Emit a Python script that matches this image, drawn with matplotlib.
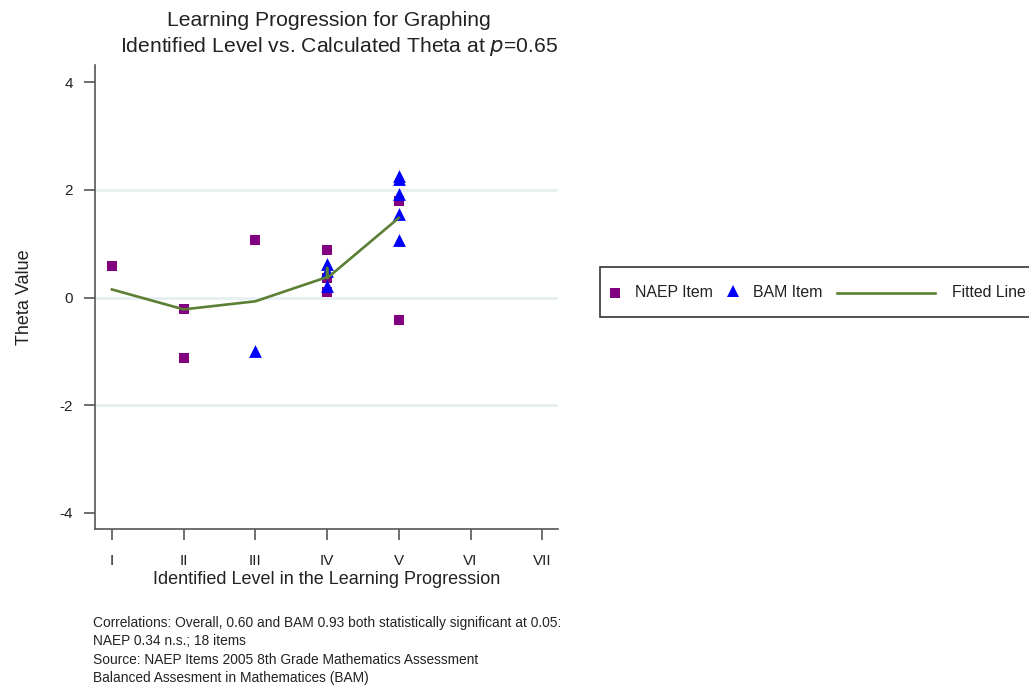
import numpy as np
import matplotlib.pyplot as plt
from matplotlib.lines import Line2D
from matplotlib.patches import Rectangle

plt.rcParams['font.family'] = ['Liberation Sans', 'DejaVu Sans']

# data
levels = ["I", "II", "III", "IV", "V", "VI", "VII"]
naep_x = [1, 2, 2, 3, 4, 4, 4, 5, 5]
naep_y = [0.58, -0.22, -1.12, 1.06, 0.88, 0.37, 0.10, 1.79, -0.41]
bam_x = [3, 4, 4, 4, 5, 5, 5, 5, 5]
bam_y = [-0.99, 0.63, 0.50, 0.22, 2.26, 2.21, 1.93, 1.56, 1.06]
fit_x = [1, 2, 3, 4, 4, 4, 5]
fit_y = [0.15, -0.22, -0.07, 0.38, 0.55, 0.36, 1.48]

purple = "#800080"
blue = "#0000ff"
green = "#5b7f34"
axcol = "#555555"
txtcol = "#222222"

W, H = 1029, 685
fig = plt.figure(figsize=(W / 100, H / 100), dpi=100)
ax = fig.add_axes([95 / W, 1 - 529 / H, (558 - 95) / W, (529 - 65) / H])

for g in [-2, 0, 2]:
    ax.axhline(g, color="#e6eff1", lw=2, zorder=0)

ax.scatter(naep_x, naep_y, marker="s", s=62, color=purple, lw=0, zorder=2)
ax.scatter(bam_x, bam_y, marker="^", s=85, color=blue, lw=0, zorder=3)
ax.plot(fit_x, fit_y, color=green, lw=1.9, zorder=4)

ax.set_xlim(0.763, 7.22)
ax.set_ylim(-4.30, 4.32)
ax.set_xticks(range(1, 8))
ax.set_xticklabels(levels)
ax.set_yticks([-4, -2, 0, 2, 4])
ax.set_yticklabels(["-4", "-2", "0", "2", "4"])
for s in ["top", "right"]:
    ax.spines[s].set_visible(False)
for s in ["left", "bottom"]:
    ax.spines[s].set_color(axcol)
    ax.spines[s].set_linewidth(1.2)
ax.tick_params(axis="x", length=8, width=1.2, color=axcol, pad=10, labelsize=11, labelcolor=txtcol)
ax.tick_params(axis="y", length=8, width=1.2, color=axcol, pad=8, labelsize=11, labelcolor=txtcol)
ax.set_xlabel("Identified Level in the Learning Progression", fontsize=13, labelpad=2, color=txtcol)
ax.set_ylabel("Theta Value", fontsize=13, labelpad=19, color=txtcol)

fig.text(329 / W, 1 - 20 / H, "Learning Progression for Graphing", ha="center", va="center",
         fontsize=15.2, color=txtcol)
fig.text(339 / W, 1 - 47 / H, "Identified Level vs. Calculated Theta at $\\it{p}$=0.65",
         ha="center", va="center", fontsize=15.2, color=txtcol)

notes = ["Correlations: Overall, 0.60 and BAM 0.93 both statistically significant at 0.05:",
         "NAEP 0.34 n.s.; 18 items",
         "Source: NAEP Items 2005 8th Grade Mathematics Assessment",
         "Balanced Assesment in Mathematices (BAM)"]
for i, t in enumerate(notes):
    fig.text(93 / W, 1 - (623 + 18.3 * i) / H, t, ha="left", va="center", fontsize=9.9, color=txtcol)

# legend box (runs off the right edge like the original)
fig.add_artist(Rectangle((600 / W, 1 - 317 / H), 470 / W, 50 / H, transform=fig.transFigure,
                         facecolor="white", edgecolor="#333333", lw=1.2))
ly = 1 - 293 / H
fig.add_artist(Line2D([615 / W], [ly], marker="s", ms=7.5, color=purple, mew=0, transform=fig.transFigure))
fig.text(635 / W, ly, "NAEP Item", ha="left", va="center", fontsize=11.4, color=txtcol)
fig.add_artist(Line2D([733 / W], [ly + 2 / H], marker="^", ms=9, color=blue, mew=0, transform=fig.transFigure))
fig.text(753 / W, ly, "BAM Item", ha="left", va="center", fontsize=11.4, color=txtcol)
fig.add_artist(Line2D([837 / W, 935 / W], [ly, ly], color=green, lw=1.9, transform=fig.transFigure))
fig.text(952 / W, ly, "Fitted Line", ha="left", va="center", fontsize=11.4, color=txtcol)

fig.savefig("out.png", dpi=100)
